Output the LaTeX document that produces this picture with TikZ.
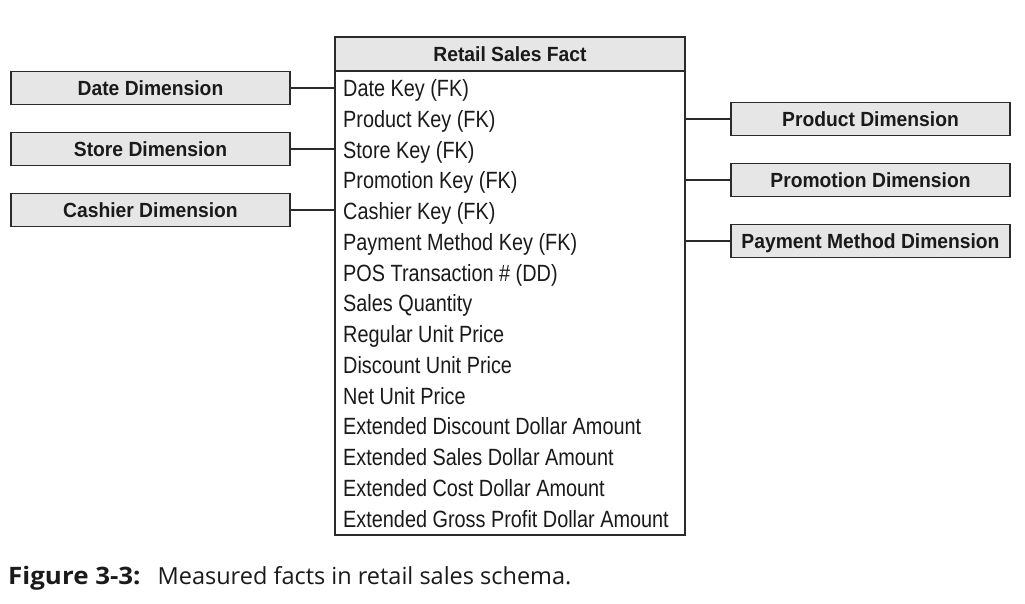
\documentclass[tikz,border=0pt]{standalone}
\usepackage{fontspec}
\setmainfont{Liberation Sans}
\newfontfamily\rowfont{Liberation Sans}[FakeStretch=0.845]
\newfontfamily\dimfont{Liberation Sans}[FakeStretch=0.94]
\newfontfamily\capfont{Open Sans}
\newfontfamily\capboldfont{Open Sans}[BoldFeatures={FakeStretch=1.08}]
\definecolor{boxgray}{HTML}{E6E6E6}
\definecolor{linec}{HTML}{2B2B2B}
\definecolor{inkc}{HTML}{1A1A1A}
\begin{document}
\begin{tikzpicture}[x=1pt,y=-1pt,
  dimbox/.style={draw=linec, line width=1.2pt, fill=boxgray, inner sep=0pt,
    minimum width=279pt, minimum height=33.5pt, text height=15pt, text depth=0pt,
    text=inkc, font=\dimfont\bfseries\fontsize{20.5}{20.5}\selectfont},
  rowtext/.style={anchor=base west, inner sep=0pt, text=inkc,
    font=\rowfont\fontsize{23.5}{23.5}\selectfont},
  link/.style={draw=linec, line width=1.8pt}]
\useasboundingbox (0,0) rectangle (1025,604);

% fact table: header and body
\node[draw=linec, line width=1.2pt, fill=white, minimum width=350pt,
  minimum height=464pt, inner sep=0pt] (fact) at (510,303) {};
\node[dimbox, minimum width=350pt, minimum height=34pt] (hdr) at (510,54) {Retail Sales Fact};

% fact table rows
\foreach \t [count=\i from 0] in {Date Key (FK), Product Key (FK), Store Key (FK),
  Promotion Key (FK), Cashier Key (FK), Payment Method Key (FK),
  POS Transaction \# (DD), Sales Quantity, Regular Unit Price,
  Discount Unit Price, Net Unit Price, Extended Discount Dollar Amount,
  Extended Sales Dollar Amount, Extended Cost Dollar Amount,
  Extended Gross Profit Dollar Amount}
  \node[rowtext] (row\i) at (343,{96.7+30.75*\i}) {\t};

% dimensions on the left
\node[dimbox] (date) at (150.5,88) {Date Dimension};
\node[dimbox] (store) at (150.5,149) {Store Dimension};
\node[dimbox] (cashier) at (150.5,210) {Cashier Dimension};

% dimensions on the right
\node[dimbox] (product) at (870.5,119) {Product Dimension};
\node[dimbox] (promo) at (870.5,180) {Promotion Dimension};
\node[dimbox] (payment) at (870.5,241) {Payment Method Dimension};

% connectors
\foreach \d in {date,store,cashier}
  \draw[link] (\d.east) -- (\d.east -| fact.west);
\foreach \d in {product,promo,payment}
  \draw[link] (\d.west) -- (\d.west -| fact.east);

% caption
\node[anchor=base west, inner sep=0pt, text=inkc,
  font=\capfont\fontsize{23.5}{23.5}\selectfont] (caption) at (8,584.5)
  {{\capboldfont\bfseries\fontsize{24}{24}\selectfont Figure 3-3:}\hspace{17pt}Measured facts in retail sales schema.};
\end{tikzpicture}
\end{document}
